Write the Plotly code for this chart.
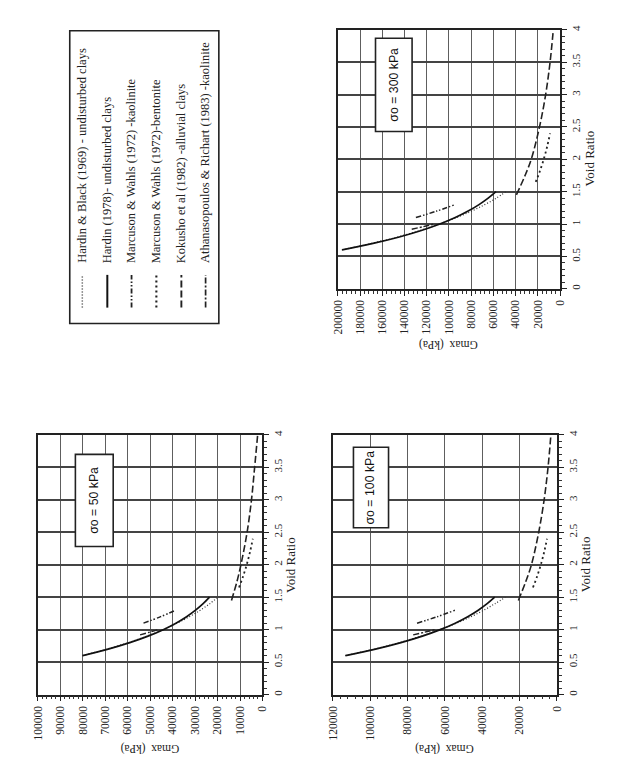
import plotly.graph_objects as go

W, H = 626, 769

# ---------------- data ----------------
E_HARDIN = [0.6, 0.7, 0.8, 0.9, 1.0, 1.1, 1.2, 1.3, 1.4, 1.5]
G_HB_50 = [80180, 69230, 59750, 51510, 44320, 38030, 32520, 27700, 23460, 19900]
G_HB_100 = [113390, 97900, 84500, 72840, 62680, 53790, 46000, 39170, 33170, 27600]
G_HB_300 = [196400, 169570, 146350, 126160, 108560, 93160, 79660, 67840, 57450, 48800]
G_H78_50 = [80060, 68730, 59080, 50970, 44190, 38530, 33790, 29800, 26430, 23570]
G_H78_100 = [113230, 97200, 83560, 72090, 62500, 54490, 47780, 42140, 37380, 33330]
G_H78_300 = [196110, 168350, 144720, 124860, 108250, 94370, 82760, 73000, 64750, 57730]

E_MWK = [1.1, 1.2, 1.3]
G_MWK_50 = [52980, 45310, 38590]
G_MWK_100 = [74930, 64080, 54570]
G_MWK_300 = [129770, 110990, 94510]

E_MWB = [1.65, 1.8, 2.0, 2.2, 2.4]
G_MWB_50 = [10450, 8840, 7030, 5540, 4300]
G_MWB_100 = [12840, 10860, 8640, 6810, 5290]
G_MWB_300 = [22000, 18600, 14800, 11660, 9060]

E_KOK = [1.45, 1.75, 2.0, 2.5, 3.0, 3.5, 4.0]
G_KOK_50 = [13800, 11300, 9600, 6850, 4900, 3500, 2150]
G_KOK_100 = [20670, 16580, 13660, 9760, 6860, 4770, 3240]
G_KOK_300 = [39370, 31580, 26020, 18580, 13060, 9080, 6170]

E_AR = [0.92, 0.96, 1.0]
G_AR_50 = [54500, 50300, 46500]
G_AR_100 = [77000, 71000, 65500]
G_AR_300 = [133500, 123000, 113500]

E_TICKS = [0, 0.5, 1, 1.5, 2, 2.5, 3, 3.5, 4]
E_TICKTEXT = ["0", "0.5", "1", "1.5", "2", "2.5", "3", "3.5", "4"]
G_TICKS_50 = [100000, 90000, 80000, 70000, 60000, 50000, 40000, 30000, 20000, 10000, 0]
G_TICKS_100 = [120000, 100000, 80000, 60000, 40000, 20000, 0]
G_TICKS_300 = [200000, 180000, 160000, 140000, 120000, 100000, 80000, 60000, 40000, 20000, 0]

LEGEND_NAMES = [
    "Hardin & Black (1969) - undisturbed clays",
    "Hardin (1978)- undisturbed clays",
    "Marcuson & Wahls (1972) -kaolinite",
    "Marcuson & Wahls (1972)-bentonite",
    "Kokusho et al (1982) -alluvial clays",
    "Athanasopoulos & Richart (1983) -kaolinite",
]
PANEL_LABELS = ["σo = 50 kPa", "σo = 100 kPa", "σo = 300 kPa"]

# ---------------- styles ----------------
STY = {
    "hb": dict(color="#333", width=1.2, dash="1px,2px"),
    "h78": dict(color="#111", width=1.7, dash="solid"),
    "mwk": dict(color="#222", width=1.5, dash="5px,2px,1.5px,2px,1.5px,2px"),
    "mwb": dict(color="#222", width=1.8, dash="2px,3px"),
    "kok": dict(color="#222", width=1.6, dash="7px,3px"),
    "ar": dict(color="#222", width=1.4, dash="6px,2px,2px,2px"),
}
SERIF = "Liberation Serif, Times New Roman, serif"
SANS = "Liberation Sans, Arial, sans-serif"

def px_x(p):
    return p / W

def px_y(p):
    return 1 - p / H

panels = [
    dict(xa="x", ya="y", xd=[32.5, 261.5], yd=[433.3, 695], rng=[100000, 0], ticks=G_TICKS_50, minor=2000,
         data=[("hb", E_HARDIN, G_HB_50), ("h78", E_HARDIN, G_H78_50), ("mwk", E_MWK, G_MWK_50),
               ("mwb", E_MWB, G_MWB_50), ("kok", E_KOK, G_KOK_50), ("ar", E_AR, G_AR_50)],
         box=[83300, 66460, 2.28, 3.70], label=PANEL_LABELS[0],
         gtitle=(147, 750), vtitle=(290, 564)),
    dict(xa="x2", ya="y2", xd=[333.3, 561.7], yd=[433.3, 695], rng=[120000, 0], ticks=G_TICKS_100, minor=4000,
         data=[("hb", E_HARDIN, G_HB_100), ("h78", E_HARDIN, G_H78_100), ("mwk", E_MWK, G_MWK_100),
               ("mwb", E_MWB, G_MWB_100), ("kok", E_KOK, G_KOK_100), ("ar", E_AR, G_AR_100)],
         box=[109000, 90200, 2.57, 3.81], label=PANEL_LABELS[1],
         gtitle=(447, 750), vtitle=(591, 564)),
    dict(xa="x3", ya="y3", xd=[338.3, 565], yd=[25, 286], rng=[200000, 0], ticks=G_TICKS_300, minor=4000,
         data=[("hb", E_HARDIN, G_HB_300), ("h78", E_HARDIN, G_H78_300), ("mwk", E_MWK, G_MWK_300),
               ("mwb", E_MWB, G_MWB_300), ("kok", E_KOK, G_KOK_300), ("ar", E_AR, G_AR_300)],
         box=[166100, 133200, 2.43, 3.87], label=PANEL_LABELS[2],
         gtitle=(451, 342), vtitle=(595, 155)),
]

fig = go.Figure()
layout = dict(width=W, height=H, margin=dict(l=0, r=0, t=0, b=0),
              paper_bgcolor="white", plot_bgcolor="white", showlegend=False)
shapes = []
annotations = []

for p in panels:
    for key, e, g in p["data"]:
        s = STY[key]
        fig.add_trace(go.Scatter(x=g, y=e, mode="lines", xaxis=p["xa"], yaxis=p["ya"],
                                 line=dict(color=s["color"], width=s["width"], dash=s["dash"], shape="spline"),
                                 hoverinfo="skip"))
    xname = "xaxis" + p["xa"][1:]
    yname = "yaxis" + p["ya"][1:]
    layout[xname] = dict(
        domain=[px_x(p["xd"][0]), px_x(p["xd"][1])], range=p["rng"], anchor=p["ya"],
        tickmode="array", tickvals=p["ticks"], ticktext=[str(t) for t in p["ticks"]],
        tickangle=-90, ticks="outside", ticklen=5, tickwidth=1, tickcolor="#222",
        showline=True, linecolor="#222", linewidth=1.5, mirror=True,
        showgrid=True, gridcolor="#5e5e5e", gridwidth=1, zeroline=False,
        minor=dict(tickmode="linear", tick0=0, dtick=p["minor"], ticks="outside", ticklen=3,
                   tickcolor="#333", tickwidth=1, showgrid=False),
        tickfont=dict(family=SERIF, size=11.5, color="#222"), fixedrange=True,
    )
    layout[yname] = dict(
        domain=[px_y(p["yd"][1]), px_y(p["yd"][0])], range=[0, 4], anchor=p["xa"], side="right",
        tickmode="array", tickvals=E_TICKS, ticktext=E_TICKTEXT,
        tickangle=-90, ticks="outside", ticklen=5, tickwidth=1, tickcolor="#222",
        showline=True, linecolor="#222", linewidth=1.5, mirror=True,
        showgrid=True, gridcolor="#444", gridwidth=1.7, zeroline=False,
        minor=dict(tickmode="linear", tick0=0, dtick=0.1, ticks="outside", ticklen=3,
                   tickcolor="#333", tickwidth=1, showgrid=False),
        tickfont=dict(family=SERIF, size=11, color="#222"), fixedrange=True,
    )
    b = p["box"]
    shapes.append(dict(type="rect", xref=p["xa"], yref=p["ya"], x0=b[0], x1=b[1], y0=b[2], y1=b[3],
                       line=dict(color="#222", width=1.6), fillcolor="white", layer="above"))
    annotations.append(dict(xref=p["xa"], yref=p["ya"], x=(b[0] + b[1]) / 2, y=(b[2] + b[3]) / 2,
                            text=p["label"], textangle=-90, showarrow=False,
                            font=dict(family=SANS, size=12.3, color="#111"),
                            xanchor="center", yanchor="middle"))
    gx, gy = p["gtitle"]
    annotations.append(dict(xref="paper", yref="paper", x=px_x(gx), y=px_y(gy), text="Gmax  (kPa)",
                            textangle=180, showarrow=False, xanchor="center", yanchor="middle",
                            font=dict(family=SERIF, size=11.5, color="#222")))
    vx, vy = p["vtitle"]
    annotations.append(dict(xref="paper", yref="paper", x=px_x(vx), y=px_y(vy), text="Void Ratio",
                            textangle=-90, showarrow=False, xanchor="center", yanchor="middle",
                            font=dict(family=SERIF, size=13, color="#222")))

# ---------------- legend (rotated, drawn as a box) ----------------
shapes.append(dict(type="rect", xref="paper", yref="paper", x0=px_x(65), x1=px_x(217),
                   y0=px_y(321), y1=px_y(26), line=dict(color="#222", width=1.6)))
leg_keys = ["hb", "h78", "mwk", "mwb", "kok", "ar"]
leg_x = [77.8, 103.3, 128.0, 153.3, 178.8, 203.5]
for k, lx, name in zip(leg_keys, leg_x, LEGEND_NAMES):
    s = STY[k]
    shapes.append(dict(type="line", xref="paper", yref="paper", x0=px_x(lx), x1=px_x(lx),
                       y0=px_y(305), y1=px_y(272),
                       line=dict(color=s["color"], width=s["width"] + 0.3, dash=s["dash"])))
    annotations.append(dict(xref="paper", yref="paper", x=px_x(lx), y=px_y(262), text=name,
                            textangle=-90, showarrow=False, xanchor="center", yanchor="bottom",
                            font=dict(family=SERIF, size=12.5, color="#222")))

layout["shapes"] = shapes
layout["annotations"] = annotations
fig.update_layout(**layout)
fig.write_html("out.html")
